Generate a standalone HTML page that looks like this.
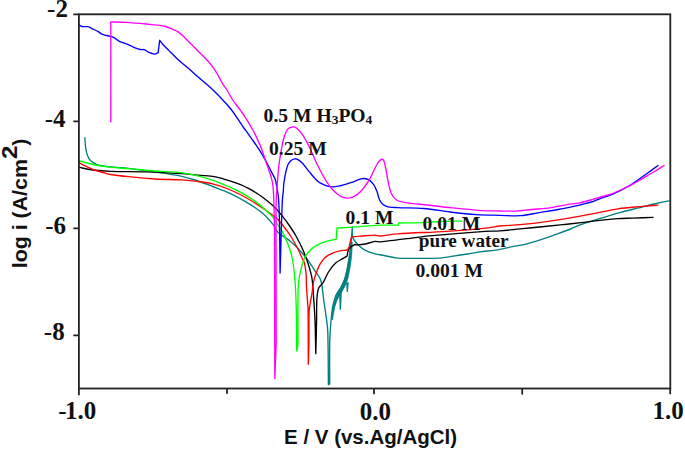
<!DOCTYPE html>
<html><head><meta charset="utf-8"><style>
html,body{margin:0;padding:0;background:#fff;overflow:hidden;}
svg{display:block;}
</style></head><body>
<svg width="685" height="449" viewBox="0 0 685 449">
<rect width="685" height="449" fill="#fff"/>
<g fill="none" stroke-width="1.35" stroke-linejoin="round" stroke-linecap="butt">
<path d="M84.80 137.20C85.10 140.73 85.18 144.29 85.70 147.80C86.08 150.41 86.57 153.03 87.50 155.50C88.19 157.32 89.13 159.12 90.50 160.50C92.17 162.19 94.14 163.77 96.40 164.50C100.97 165.98 105.83 166.43 110.60 167.00C116.51 167.70 122.49 167.65 128.40 168.30C137.33 169.28 146.22 170.57 155.10 171.90C164.02 173.24 172.96 174.51 181.80 176.30C186.28 177.21 190.66 178.57 195.00 180.00C201.00 181.97 206.90 184.25 212.80 186.50C218.77 188.78 224.83 190.86 230.60 193.60C236.72 196.50 242.62 199.86 248.40 203.40C253.30 206.40 258.24 209.45 262.60 213.20C266.59 216.63 270.01 220.70 273.30 224.80C275.19 227.16 275.92 230.41 278.10 232.50C281.79 236.04 286.68 238.11 290.60 241.40C294.44 244.63 297.92 248.29 301.30 252.00C303.86 254.80 306.17 257.83 308.40 260.90C310.91 264.37 313.14 268.03 315.50 271.60C317.00 273.87 318.81 275.95 320.00 278.40C320.94 280.34 321.43 282.48 321.80 284.60C322.63 289.33 322.96 294.14 323.60 298.90C324.16 303.07 324.81 307.23 325.40 311.40C325.81 314.27 326.27 317.13 326.60 320.00C327.07 323.99 327.69 327.98 327.80 332.00C328.29 349.59 328.20 367.20 328.40 384.80L329.70 384.00C329.70 370.00 329.54 356.00 329.70 342.00C329.74 338.00 330.05 334.00 330.30 330.00C330.51 326.66 330.77 323.33 331.10 320.00C331.50 315.96 331.78 311.90 332.50 307.90C333.15 304.25 334.02 300.62 335.20 297.10C335.83 295.22 336.89 293.50 337.90 291.80C338.66 290.53 339.74 289.47 340.50 288.20C341.51 286.50 342.37 284.70 343.20 282.90C343.87 281.43 344.49 279.93 345.00 278.40C345.69 276.33 346.30 274.23 346.80 272.10C347.21 270.35 347.40 268.57 347.70 266.80C348.00 265.00 348.24 263.19 348.60 261.40C348.84 260.22 349.30 259.09 349.50 257.90C349.90 255.51 350.16 253.11 350.40 250.70C350.76 247.14 351.00 243.57 351.30 240.00L352.30 226.80C352.50 230.47 351.74 234.31 352.90 237.80C353.84 240.62 356.20 242.80 358.30 244.90C360.40 247.00 362.78 248.90 365.40 250.30C368.41 251.90 371.72 252.89 375.00 253.80C377.97 254.63 381.07 254.92 384.10 255.50C388.57 256.35 392.97 257.69 397.50 258.10C403.81 258.66 410.17 258.40 416.50 258.40C423.80 258.40 431.11 258.54 438.40 258.10C443.30 257.80 448.14 256.88 453.00 256.20C457.87 255.52 462.74 254.79 467.60 254.00C471.74 253.32 475.84 252.38 480.00 251.80C485.18 251.08 490.43 250.91 495.60 250.10C500.84 249.28 506.00 247.95 511.20 246.90C516.40 245.85 521.66 245.09 526.80 243.80C532.07 242.48 537.23 240.77 542.40 239.10C547.64 237.41 552.82 235.56 558.00 233.70C562.19 232.19 566.37 230.67 570.50 229.00C573.71 227.70 576.73 225.94 580.00 224.80C587.51 222.17 595.19 220.03 602.80 217.70C608.72 215.89 614.63 214.04 620.60 212.40C626.53 210.77 632.53 209.39 638.50 207.90C644.43 206.42 650.35 204.90 656.30 203.50C660.68 202.47 665.10 201.57 669.50 200.60" stroke="#008080"/>
<polygon points="331.5,318.0 333.0,306.0 335.0,300.0 337.3,294.0 340.0,289.0 342.5,284.0 344.5,279.0 346.3,272.0 347.8,265.0 349.0,257.0 350.2,248.0 351.0,242.0 352.2,242.0 351.8,252.9 350.8,262.4 349.3,271.8 347.5,280.0 344.5,287.0 342.0,291.5 339.5,295.5 337.0,300.0 335.0,306.0 333.2,315.0 332.5,320.0" fill="#008080" stroke="#008080" stroke-width="0.8"/>
<polyline points="346.9,283 347.3,291.4 348,282" stroke="#008080"/>
<polyline points="339.8,293 340.3,309.3 341.2,292" stroke="#008080"/>
<path d="M78.50 166.80C79.67 167.20 80.80 167.73 82.00 168.00C85.57 168.80 89.16 169.58 92.80 170.00C98.71 170.68 104.65 171.09 110.60 171.30C122.46 171.72 134.34 171.50 146.20 171.90C158.08 172.30 169.94 172.97 181.80 173.70C186.21 173.97 190.60 174.52 195.00 174.90C200.93 175.42 206.94 175.36 212.80 176.40C218.85 177.47 224.77 179.25 230.60 181.20C236.66 183.23 242.69 185.44 248.40 188.30C253.40 190.80 258.06 193.95 262.60 197.20C266.37 199.90 269.94 202.90 273.30 206.10C276.49 209.15 279.40 212.49 282.20 215.90C284.98 219.29 287.52 222.88 290.00 226.50C292.12 229.59 294.19 232.72 296.00 236.00C298.57 240.66 300.98 245.42 303.10 250.30C305.12 254.93 306.89 259.68 308.40 264.50C309.86 269.16 311.27 273.87 312.00 278.70C313.07 285.74 313.28 292.89 313.80 300.00C314.28 306.66 314.75 313.33 315.00 320.00C315.42 331.23 315.53 342.47 315.80 353.70C316.07 342.47 316.37 331.23 316.60 320.00C316.74 312.93 316.44 305.85 316.90 298.80C317.14 295.19 317.40 291.48 318.70 288.10C319.53 285.93 321.89 284.68 323.10 282.70C325.18 279.29 326.35 275.37 328.50 272.00C330.54 268.80 332.83 265.69 335.60 263.10C337.63 261.20 340.33 260.15 342.70 258.70C344.19 257.79 345.70 256.90 347.20 256.00C347.50 254.23 347.44 252.37 348.10 250.70C348.64 249.32 349.59 248.07 350.70 247.10C352.00 245.96 353.58 245.11 355.20 244.50C355.62 244.34 356.05 244.92 356.50 244.90C359.48 244.75 362.47 244.55 365.40 244.00C368.66 243.38 371.72 241.89 375.00 241.40C376.65 241.15 378.33 241.93 380.00 241.80C387.63 241.20 395.20 240.08 402.80 239.20C412.74 238.05 422.64 236.66 432.60 235.70C450.08 234.02 467.58 232.55 485.10 231.30C490.06 230.95 495.04 231.24 500.00 230.90C506.68 230.44 513.33 229.56 520.00 228.90C528.17 228.09 536.33 227.32 544.50 226.50C552.67 225.68 560.84 224.90 569.00 224.00C577.17 223.10 585.33 222.00 593.50 221.10C601.66 220.20 609.81 219.23 618.00 218.60C622.89 218.23 627.80 218.27 632.70 218.10C639.63 217.87 646.57 217.63 653.50 217.40" stroke="#000000"/>
<path d="M78.50 162.30C80.43 163.37 82.33 164.51 84.30 165.50C87.10 166.91 89.87 168.40 92.80 169.50C96.12 170.74 99.59 171.54 103.00 172.50C105.52 173.21 108.02 174.07 110.60 174.50C116.50 175.48 122.45 176.10 128.40 176.70C137.29 177.60 146.18 178.47 155.10 179.00C163.99 179.53 172.91 179.41 181.80 179.90C186.21 180.14 190.61 180.65 195.00 181.20C200.95 181.95 206.98 182.36 212.80 183.80C218.90 185.31 224.82 187.53 230.60 190.00C236.71 192.61 242.64 195.68 248.40 199.00C254.52 202.53 260.38 206.50 266.20 210.50C269.89 213.03 273.55 215.64 276.90 218.60C279.04 220.49 280.83 222.76 282.60 225.00C285.40 228.56 288.15 232.19 290.60 236.00C293.19 240.03 295.50 244.25 297.70 248.50C299.30 251.59 300.53 254.85 302.00 258.00C302.80 259.72 304.06 261.26 304.50 263.10C305.48 267.19 305.84 271.41 306.20 275.60C306.47 278.72 306.25 281.87 306.40 285.00C306.65 290.01 307.06 295.00 307.40 300.00C307.63 303.33 308.05 306.66 308.10 310.00C308.35 328.10 308.23 346.20 308.30 364.30C308.50 357.87 308.80 351.44 308.90 345.00C309.07 334.00 308.72 322.99 309.10 312.00C309.22 308.64 309.88 305.32 310.40 302.00C310.85 299.12 311.56 296.28 312.00 293.40C312.43 290.61 312.57 287.79 313.00 285.00C313.30 283.05 313.69 281.11 314.20 279.20C314.69 277.37 315.33 275.58 316.00 273.80C317.13 270.81 318.04 267.70 319.60 264.90C321.04 262.32 322.73 259.81 324.90 257.80C326.94 255.91 329.46 254.53 332.00 253.40C334.83 252.14 337.88 251.41 340.90 250.70C342.96 250.21 345.26 250.66 347.20 249.80C348.19 249.36 348.40 248.00 349.00 247.10L351.20 237.80C351.77 237.50 352.27 237.01 352.90 236.90C355.84 236.40 358.83 236.24 361.80 236.00C366.20 235.64 370.59 235.10 375.00 235.10C376.69 235.10 378.31 236.09 380.00 236.00C385.87 235.69 391.64 234.31 397.50 233.90C413.85 232.75 430.25 232.39 446.60 231.30C460.62 230.36 474.62 229.19 488.60 227.80C492.43 227.42 496.17 226.38 500.00 226.00C506.65 225.34 513.35 225.33 520.00 224.70C528.19 223.93 536.35 222.90 544.50 221.80C552.69 220.70 560.85 219.45 569.00 218.10C577.19 216.75 585.35 215.25 593.50 213.70C601.68 212.15 609.76 210.03 618.00 208.80C626.12 207.59 634.33 207.15 642.50 206.40C647.80 205.92 653.10 205.53 658.40 205.10" stroke="#ff0000"/>
<path d="M78.50 160.80C79.67 161.03 80.85 161.20 82.00 161.50C85.62 162.44 89.14 163.77 92.80 164.50C98.69 165.67 104.64 166.50 110.60 167.20C116.51 167.90 122.47 168.19 128.40 168.70C137.30 169.46 146.19 170.32 155.10 171.00C163.99 171.68 172.93 171.87 181.80 172.80C186.25 173.27 190.65 174.15 195.00 175.20C201.00 176.65 206.96 178.30 212.80 180.30C218.84 182.37 224.74 184.85 230.60 187.40C234.25 188.99 237.84 190.73 241.30 192.70C246.15 195.47 250.96 198.35 255.50 201.60C259.27 204.30 262.76 207.39 266.20 210.50C268.70 212.76 271.18 215.08 273.30 217.70C274.97 219.77 276.05 222.26 277.50 224.50C278.85 226.60 280.46 228.53 281.70 230.70C283.13 233.21 284.33 235.86 285.50 238.50C286.70 241.19 287.79 243.93 288.80 246.70C289.79 249.43 290.79 252.18 291.50 255.00C292.29 258.12 292.88 261.30 293.30 264.50C294.08 270.41 294.65 276.35 295.10 282.30C295.55 288.19 295.78 294.10 296.00 300.00C296.25 306.66 296.41 313.33 296.50 320.00C296.64 330.33 296.63 340.67 296.70 351.00L298.00 344.00C298.00 329.33 297.86 314.67 298.00 300.00C298.06 294.10 297.99 288.17 298.60 282.30C299.10 277.51 300.14 272.78 301.30 268.10C302.21 264.46 303.12 260.76 304.80 257.40C306.13 254.74 308.10 252.40 310.20 250.30C312.30 248.20 314.70 246.35 317.30 244.90C320.09 243.35 323.14 242.31 326.20 241.40C329.47 240.43 332.87 240.00 336.20 239.30L337.00 228.00C342.30 227.70 347.60 227.48 352.90 227.10C360.27 226.58 367.62 225.70 375.00 225.30C379.99 225.03 385.00 225.17 390.00 225.10L398.40 225.00L398.60 223.00C406.40 222.87 414.20 222.88 422.00 222.60C428.01 222.38 433.99 221.72 440.00 221.50C447.43 221.22 454.87 221.23 462.30 221.10" stroke="#00ff00"/>
<path d="M78.60 24.80C79.70 25.37 80.69 26.25 81.90 26.50C83.83 26.90 85.88 26.26 87.80 26.70C89.69 27.14 91.35 28.27 93.10 29.10C94.85 29.93 96.62 30.73 98.30 31.70C99.69 32.50 100.84 33.73 102.30 34.40C103.51 34.95 104.90 34.99 106.20 35.30C107.54 35.62 108.88 35.92 110.20 36.30C111.52 36.68 112.90 36.95 114.10 37.60C115.99 38.63 117.50 40.29 119.40 41.30C121.03 42.17 122.88 42.54 124.60 43.20C126.38 43.88 128.17 44.52 129.90 45.30C131.67 46.09 133.30 47.18 135.10 47.90C136.81 48.59 138.59 49.15 140.40 49.50C141.68 49.75 143.06 49.29 144.30 49.70C145.78 50.19 146.88 51.47 148.30 52.10C150.20 52.94 152.13 53.95 154.20 54.10C155.57 54.20 156.80 53.23 158.10 52.80L159.70 40.30C160.70 41.60 161.59 42.99 162.70 44.20C165.13 46.86 167.76 49.34 170.30 51.90C173.19 54.81 175.97 57.83 179.00 60.60C181.78 63.14 184.84 65.35 187.70 67.80C191.61 71.15 195.43 74.61 199.30 78.00C203.16 81.38 207.16 84.60 210.90 88.10C214.89 91.84 218.71 95.75 222.50 99.70C225.08 102.39 227.66 105.10 230.00 108.00C232.53 111.14 234.80 114.48 237.10 117.80C239.54 121.32 241.77 124.97 244.20 128.50C244.94 129.58 245.84 130.54 246.60 131.60C249.20 135.21 251.77 138.84 254.30 142.50C256.43 145.58 258.63 148.62 260.60 151.80C262.80 155.35 264.82 159.02 266.80 162.70C268.46 165.79 269.93 168.97 271.50 172.10C272.79 174.67 274.45 177.08 275.40 179.80C276.20 182.10 276.26 184.60 276.70 187.00C277.19 189.67 277.87 192.31 278.20 195.00C278.61 198.32 278.72 201.66 278.90 205.00C279.08 208.33 279.21 211.67 279.30 215.00C279.45 220.67 279.52 226.33 279.60 232.00C279.79 245.67 279.93 259.33 280.10 273.00C280.27 267.00 280.43 261.00 280.60 255.00C280.83 246.67 281.03 238.33 281.30 230.00C281.63 220.00 281.90 209.99 282.40 200.00C282.53 197.42 282.97 194.87 283.20 192.30C283.47 189.20 283.52 186.09 283.90 183.00C284.29 179.85 284.83 176.71 285.50 173.60C286.13 170.70 286.66 167.74 287.80 165.00C288.52 163.28 289.60 161.64 291.00 160.40C292.03 159.49 293.45 159.07 294.80 158.80C295.53 158.65 296.34 158.85 297.00 159.20C298.72 160.11 300.44 161.12 301.80 162.50C304.48 165.22 306.57 168.46 309.00 171.40C310.97 173.79 312.85 176.27 315.00 178.50C316.53 180.08 318.06 181.77 320.00 182.80C323.33 184.57 326.85 186.33 330.60 186.80C334.16 187.25 337.78 186.24 341.30 185.50C344.94 184.73 348.48 183.50 352.00 182.30C355.02 181.27 357.77 179.39 360.90 178.80C363.23 178.36 365.82 178.37 368.00 179.30C370.19 180.24 371.87 182.19 373.30 184.10C374.89 186.22 375.92 188.73 376.90 191.20C378.03 194.05 378.32 197.21 379.60 200.00C380.38 201.71 381.53 203.33 383.00 204.50C384.46 205.66 386.28 206.41 388.10 206.80C391.18 207.46 394.36 207.45 397.50 207.60C406.26 208.02 415.06 207.77 423.80 208.50C432.58 209.24 441.25 210.99 450.00 212.00C458.78 213.02 467.58 214.02 476.40 214.60C484.25 215.12 492.13 215.10 500.00 215.30C506.87 215.47 513.75 216.17 520.60 215.70C526.90 215.27 533.07 213.63 539.30 212.60C545.53 211.57 551.78 210.62 558.00 209.50C563.22 208.56 568.43 207.59 573.60 206.40C580.27 204.86 586.94 203.28 593.50 201.30C596.69 200.34 599.67 198.75 602.80 197.60C605.74 196.52 608.79 195.76 611.70 194.60C614.73 193.39 617.70 192.00 620.60 190.50C624.23 188.63 627.82 186.64 631.30 184.50C633.79 182.97 636.11 181.18 638.50 179.50C641.48 177.41 644.45 175.32 647.40 173.20C651.08 170.55 654.73 167.87 658.40 165.20" stroke="#0000ff"/>
<path d="M110.80 122.40L110.80 21.90C115.87 22.03 120.94 21.99 126.00 22.30C134.01 22.79 142.01 23.57 150.00 24.30C152.61 24.54 155.21 24.83 157.80 25.20C160.41 25.57 163.06 25.78 165.60 26.50C168.29 27.26 170.83 28.49 173.40 29.60C175.00 30.29 176.64 30.94 178.10 31.90C179.80 33.02 181.31 34.41 182.80 35.80C185.48 38.31 188.00 41.00 190.60 43.60C193.20 46.20 195.81 48.79 198.40 51.40C201.51 54.53 204.74 57.54 207.70 60.80C209.95 63.28 212.09 65.86 214.00 68.60C215.73 71.07 217.10 73.78 218.60 76.40C219.94 78.75 221.08 81.20 222.50 83.50C223.88 85.74 225.61 87.76 227.00 90.00C229.02 93.26 230.58 96.80 232.70 100.00C235.16 103.71 238.13 107.06 240.70 110.70C243.17 114.20 245.53 117.77 247.80 121.40C249.56 124.21 251.22 127.08 252.80 130.00C254.45 133.05 256.05 136.14 257.50 139.30C259.15 142.88 260.70 146.51 262.10 150.20C263.27 153.28 264.15 156.47 265.20 159.60C266.25 162.71 267.35 165.79 268.40 168.90C269.45 172.03 270.65 175.11 271.50 178.30C272.18 180.86 272.72 183.47 273.00 186.10C273.49 190.72 273.64 195.36 273.80 200.00C274.14 210.00 274.27 220.00 274.50 230.00L274.80 378.60L276.20 343.00C276.13 300.33 276.00 257.67 276.00 215.00C276.00 210.13 276.04 205.26 276.20 200.40C276.31 197.13 276.58 193.87 276.80 190.60C277.08 186.53 277.38 182.46 277.70 178.40C277.98 174.93 278.23 171.46 278.60 168.00C278.87 165.49 279.23 162.99 279.60 160.50C280.13 156.99 280.64 153.48 281.30 150.00C282.07 145.91 282.74 141.79 283.90 137.80C284.68 135.10 285.66 132.41 287.10 130.00C287.74 128.92 288.82 128.03 290.00 127.60C291.57 127.02 293.53 126.30 295.00 127.10C297.94 128.70 300.14 131.49 302.10 134.20C304.91 138.08 307.06 142.41 309.20 146.70C312.40 153.12 314.89 159.88 318.10 166.30C320.83 171.76 323.69 177.18 327.00 182.30C329.07 185.50 331.42 188.59 334.20 191.20C336.84 193.67 339.69 196.21 343.10 197.40C345.90 198.38 349.20 198.38 352.00 197.40C355.41 196.21 358.40 193.81 360.90 191.20C364.42 187.52 367.18 183.16 369.80 178.80C372.54 174.24 374.05 169.00 376.90 164.50C378.24 162.39 379.70 159.20 382.20 159.20C384.18 159.20 384.37 162.59 384.90 164.50C386.19 169.18 386.57 174.06 387.60 178.80C388.64 183.56 389.21 188.51 391.10 193.00C392.24 195.72 394.10 198.29 396.50 200.00C398.68 201.55 401.56 201.87 404.20 202.30C411.85 203.54 419.60 204.11 427.30 205.00C434.87 205.88 442.42 206.81 450.00 207.60C459.36 208.58 468.71 209.66 478.10 210.30C485.39 210.80 492.70 210.85 500.00 211.00C505.30 211.11 510.61 211.35 515.90 211.10C521.12 210.85 526.30 209.99 531.50 209.50C537.73 208.92 544.00 208.75 550.20 207.90C555.45 207.18 560.57 205.69 565.80 204.80C570.51 203.99 575.31 203.75 580.00 202.80C584.56 201.88 589.01 200.44 593.50 199.20C596.61 198.34 599.71 197.42 602.80 196.50C605.77 195.62 608.79 194.86 611.70 193.80C614.73 192.69 617.67 191.35 620.60 190.00C624.20 188.35 627.78 186.62 631.30 184.80C634.24 183.28 637.13 181.66 640.00 180.00C643.37 178.06 646.66 175.99 650.00 174.00C652.66 172.42 655.35 170.90 658.00 169.30C660.22 167.96 662.40 166.57 664.60 165.20" stroke="#ff00ff"/>
</g>
<g stroke="#222" stroke-width="1.8" fill="none">
<rect x="78.9" y="14.3" width="591.4" height="374.2"/>
<path d="M73.3 14.3H78.9M73.3 121.3H78.9M73.3 228.3H78.9M73.3 335.3H78.9M78.9 388.5V395.2M227 388.5V393.8M374 388.5V394.2M522.2 388.5V394.6M670.2 388.5V394.2"/>
</g>
<g font-family="Liberation Serif" font-weight="bold" font-size="25" fill="#111">
<text x="67.9" y="16.6" text-anchor="end"><tspan font-weight="normal">-</tspan>2</text>
<text x="65.6" y="126.5" text-anchor="end"><tspan font-weight="normal">-</tspan>4</text>
<text x="66" y="234" text-anchor="end"><tspan font-weight="normal">-</tspan>6</text>
<text x="64.7" y="340.4" text-anchor="end"><tspan font-weight="normal">-</tspan>8</text>
<text x="96.3" y="418.5" text-anchor="end"><tspan font-weight="normal">-</tspan><tspan dx="-1.5">1.0</tspan></text>
<text x="375.4" y="419.7" text-anchor="middle">0.0</text>
<text x="668" y="418.8" text-anchor="middle">1.0</text>
</g>
<g font-family="Liberation Serif" font-weight="bold" font-size="19.6" fill="#111">
<text x="263.6" y="121.9">0.5 M H<tspan font-size="13.5" dy="2">3</tspan><tspan dy="-2">PO</tspan><tspan font-size="13.5" dy="2">4</tspan></text>
<text x="269" y="154.7">0.25 M</text>
<text x="345.6" y="224">0.1 M</text>
<text x="422.6" y="229.8">0.01 M</text>
<text x="418.8" y="247" font-size="19.2">pure water</text>
<text x="415.5" y="276.5">0.001 M</text>
</g>
<g font-family="Liberation Sans" font-weight="bold" font-size="20.5" fill="#111">
<text x="370.6" y="443.5" text-anchor="middle">E / V (vs.Ag/AgCl)</text>
</g>
<g font-family="Liberation Sans" font-weight="bold" font-size="20" fill="#111">
<text transform="translate(27.4,203.4) rotate(-90) scale(1.067,1)" text-anchor="middle">log i (A/cm<tspan dy="-10.8" font-size="22.5">2</tspan><tspan dy="10.8">)</tspan></text>
</g>
</svg>
</body></html>
